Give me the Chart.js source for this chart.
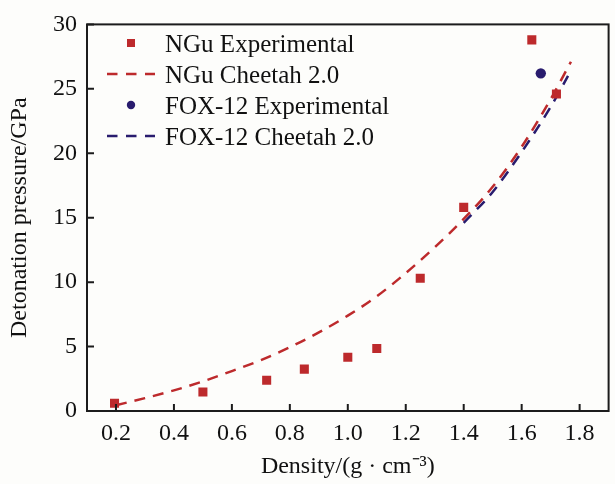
<!DOCTYPE html>
<html>
<head>
<meta charset="utf-8">
<script src="https://cdn.jsdelivr.net/npm/chart.js@4"></script>
<style>
  html, body { margin: 0; padding: 0; background: #fdfdfb; }
</style>
</head>
<body>
<canvas id="chart" width="615" height="484"></canvas>
<script>
// Datos
const ngExpX = [0.195, 0.5, 0.72, 0.85, 1.0, 1.1, 1.25, 1.4, 1.635, 1.72];
const ngExpY = [0.6, 1.48, 2.38, 3.25, 4.17, 4.85, 10.3, 15.8, 28.8, 24.6];

const ngCalcX = [0.2, 0.3, 0.4, 0.5, 0.6, 0.7, 0.8, 0.9, 1.0, 1.1, 1.2, 1.3, 1.4, 1.5, 1.6, 1.7, 1.77];
const ngCalcY = [0.45, 1.0, 1.6, 2.3, 3.1, 3.95, 4.95, 6.1, 7.4, 8.9, 10.7, 12.7, 14.9, 17.4, 20.5, 24.2, 27.1];

const foxExpX = [1.666];
const foxExpY = [26.2];

const foxCalcX = [1.4, 1.5, 1.6, 1.7, 1.76];
const foxCalcY = [14.6, 17.0, 20.1, 23.6, 26.0];

const xTicks = [0.2, 0.4, 0.6, 0.8, 1.0, 1.2, 1.4, 1.6, 1.8];
const yTicks = [0, 5, 10, 15, 20, 25, 30];

const labels = ['NGu Experimental', 'NGu Cheetah 2.0', 'FOX-12 Experimental', 'FOX-12 Cheetah 2.0'];

const RED = '#bd2a2c';
const BLUE = '#291c6e';
const FONT = "'Liberation Serif', 'Times New Roman', serif";

function toPoints(xs, ys) {
  return xs.map((x, i) => ({ x: x, y: ys[i] }));
}

// Marco, marcas hacia dentro y leyenda
const framePlugin = {
  id: 'frame',
  afterDraw(chart) {
    const { ctx, chartArea: a, scales: { x, y } } = chart;
    ctx.save();
    ctx.strokeStyle = '#1c1c1c';
    ctx.lineWidth = 2;
    ctx.strokeRect(a.left, a.top, a.right - a.left, a.bottom - a.top);
    ctx.beginPath();
    x.ticks.forEach(t => {
      const px = x.getPixelForValue(t.value);
      ctx.moveTo(px, a.bottom);
      ctx.lineTo(px, a.bottom - 7);
    });
    y.ticks.forEach(t => {
      const py = y.getPixelForValue(t.value);
      ctx.moveTo(a.left, py);
      ctx.lineTo(a.left + 7, py);
    });
    ctx.stroke();

    // Leyenda
    const markX = a.left + 44;
    const textX = a.left + 78;
    const rowY = [43, 74, 105, 136];
    ctx.font = '25px ' + FONT;
    ctx.textBaseline = 'middle';
    ctx.fillStyle = '#111';
    chart.data.datasets.forEach((ds, i) => {
      const yy = rowY[i];
      if (ds.showLine) {
        ctx.save();
        ctx.strokeStyle = ds.borderColor;
        ctx.lineWidth = 2.5;
        ctx.setLineDash([10.5, 8.5]);
        ctx.beginPath();
        ctx.moveTo(markX - 24, yy);
        ctx.lineTo(markX + 24, yy);
        ctx.stroke();
        ctx.restore();
      } else if (ds.pointStyle === 'rect') {
        ctx.fillStyle = ds.backgroundColor;
        ctx.fillRect(markX - 4, yy - 4, 8, 8);
      } else {
        ctx.fillStyle = ds.backgroundColor;
        ctx.beginPath();
        ctx.arc(markX, yy, 4.2, 0, Math.PI * 2);
        ctx.fill();
      }
      ctx.fillStyle = '#111';
      ctx.fillText(ds.label, textX, yy + 2);
    });
    ctx.restore();
  }
};

new Chart(document.getElementById('chart'), {
  type: 'scatter',
  data: {
    datasets: [
      {
        label: labels[0],
        data: toPoints(ngExpX, ngExpY),
        pointStyle: 'rect',
        pointRadius: 6.4,
        backgroundColor: RED,
        borderColor: RED,
        borderWidth: 0
      },
      {
        label: labels[1],
        data: toPoints(ngCalcX, ngCalcY),
        showLine: true,
        pointRadius: 0,
        borderColor: RED,
        backgroundColor: RED,
        borderWidth: 2.5,
        borderDash: [11, 8],
        cubicInterpolationMode: 'monotone'
      },
      {
        label: labels[2],
        data: toPoints(foxExpX, foxExpY),
        pointStyle: 'circle',
        pointRadius: 5.2,
        backgroundColor: BLUE,
        borderColor: BLUE,
        borderWidth: 0
      },
      {
        label: labels[3],
        data: toPoints(foxCalcX, foxCalcY),
        showLine: true,
        pointRadius: 0,
        borderColor: BLUE,
        backgroundColor: BLUE,
        borderWidth: 2.5,
        borderDash: [11, 8],
        cubicInterpolationMode: 'monotone'
      }
    ]
  },
  options: {
    responsive: false,
    animation: false,
    layout: { padding: { top: 21, right: 2, left: 0, bottom: 0 } },
    plugins: {
      legend: { display: false },
      tooltip: { enabled: false }
    },
    scales: {
      x: {
        type: 'linear',
        min: 0.1,
        max: 1.9,
        afterBuildTicks: s => { s.ticks = xTicks.map(v => ({ value: v })); },
        afterFit: s => { s.height = 73; },
        grid: { display: false, drawTicks: false },
        border: { display: false },
        ticks: {
          padding: 8,
          color: '#111',
          font: { family: FONT, size: 24 },
          callback: v => Number(v).toFixed(1)
        },
        title: {
          display: true,
          text: 'Density/(g · cm⁻³)',
          color: '#111',
          font: { family: FONT, size: 24 },
          padding: { top: 0, bottom: 3 }
        }
      },
      y: {
        min: 0,
        max: 30,
        afterBuildTicks: s => { s.ticks = yTicks.map(v => ({ value: v })); },
        afterFit: s => { s.width = 87; },
        grid: { display: false, drawTicks: false },
        border: { display: false },
        ticks: {
          padding: 10,
          color: '#111',
          font: { family: FONT, size: 24 },
          callback: v => String(v)
        },
        title: {
          display: true,
          text: 'Detonation pressure/GPa',
          color: '#111',
          font: { family: FONT, size: 24 },
          padding: { top: 5, bottom: 0 }
        }
      }
    }
  },
  plugins: [framePlugin]
});
</script>
</body>
</html>
